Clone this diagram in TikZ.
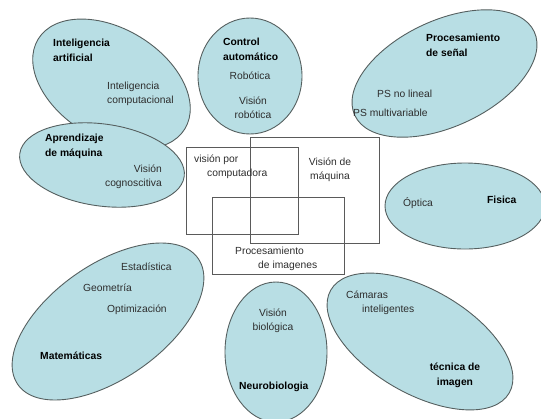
\documentclass[tikz,border=0pt]{standalone}
\usepackage{fontspec}
\setmainfont{Liberation Sans}
\definecolor{ellfill}{RGB}{184,222,228}
\definecolor{ellline}{RGB}{85,95,95}
\definecolor{boxline}{RGB}{90,90,90}
\definecolor{txt}{RGB}{45,45,45}
\begin{document}
\begin{tikzpicture}[x=1pt,y=-1pt,
  ell/.style={fill=ellfill,draw=ellline,line width=0.9pt},
  area/.style={draw=boxline,line width=0.9pt},
  lbl/.style={inner sep=0pt,text=txt,font=\fontsize{10.3}{14}\selectfont},
  head/.style={inner sep=0pt,text=black,font=\fontsize{10.3}{15}\selectfont\bfseries}]
\useasboundingbox (0,0) rectangle (541,418);
% ellipses
\draw[ell,rotate around={-31.5:(111.5,84)}] (111.5,84) ellipse [x radius=86pt,y radius=55pt];
\draw[ell,rotate around={-8:(102,165)}] (102,165) ellipse [x radius=83pt,y radius=41pt];
\draw[ell] (250,76) ellipse [x radius=52pt,y radius=58pt];
\draw[ell,rotate around={25:(444.5,73.5)}] (444.5,73.5) ellipse [x radius=99pt,y radius=53pt];
\draw[ell] (465,206) ellipse [x radius=80pt,y radius=43pt];
\draw[ell,rotate around={35:(108,321.5)}] (108,321.5) ellipse [x radius=110pt,y radius=57pt];
\draw[ell] (276,352) ellipse [x radius=51pt,y radius=70pt];
\draw[ell,rotate around={-30:(420,341.5)}] (420,341.5) ellipse [x radius=103pt,y radius=52pt];
% rectangles
\draw[area] (186,147) rectangle (298,234);
\draw[area] (250,137) rectangle (379,243);
\draw[area] (212,197) rectangle (344,274);
% texts
\node[head,anchor=west,align=left] (ia) at (53,50) {Inteligencia\\artificial};
\node[lbl,anchor=west,align=left] (ic) at (107,93.5) {Inteligencia\\computacional};
\node[head,anchor=west,align=left] (am) at (45,146) {Aprendizaje\\de máquina};
\node[lbl,anchor=east,align=right] (vc) at (162,176.5) {Visión\\cognoscitiva};
\node[head,anchor=west,align=left] (ca) at (223,49.5) {Control\\automático};
\node[lbl] (rob) at (250,76) {Robótica};
\node[lbl,align=center] (vr) at (253,107.5) {Visión\\robótica};
\node[head,anchor=west,align=left] (ps) at (426,45) {Procesamiento\\de señal};
\node[lbl,anchor=west] (psn) at (377,94) {PS no lineal};
\node[lbl,anchor=west] (psm) at (353,113) {PS multivariable};
\node[head,anchor=west] (fis) at (487,200) {Fisica};
\node[lbl,anchor=west] (opt) at (403,203) {Óptica};
\node[lbl,anchor=west] (est) at (121,267) {Estadística};
\node[lbl,anchor=west] (geo) at (83,288) {Geometría};
\node[lbl,anchor=west] (optz) at (107,310) {Optimización};
\node[head,anchor=west] (mat) at (40,356) {Matemáticas};
\node[lbl,align=center] (vb) at (273,320.5) {Visión\\biológica};
\node[head,anchor=west] (neu) at (239,387) {Neurobiologia};
\node[lbl,anchor=west,align=left] (cam) at (346,302.5) {Cámaras\\\hspace*{16pt}inteligentes};
\node[head,align=center] (ti) at (455,375.5) {técnica de\\imagen};
\node[lbl,anchor=west,align=left] (vpc) at (194,167) {visión por\\\hspace*{13pt}computadora};
\node[lbl,align=center] (vm) at (330,170) {Visión de\\máquina};
\node[lbl,anchor=west,align=left] (pi) at (235,259) {Procesamiento\\\hspace*{23pt}de imagenes};
\end{tikzpicture}
\end{document}
